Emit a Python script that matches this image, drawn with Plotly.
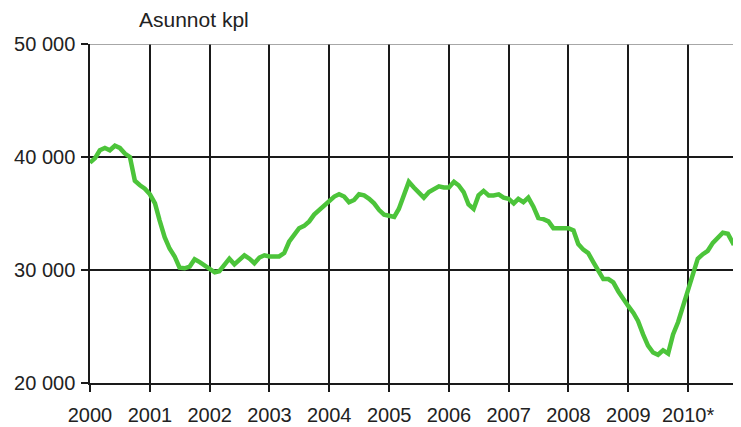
import pandas as pd
import plotly.graph_objects as go

# Monthly number of dwellings (Asunnot kpl), Jan 2000 – Nov 2010
values = [
    39500, 39900, 40600, 40800, 40600, 41000, 40800, 40300, 40000, 37900, 37500, 37200,  # 2000
    36700, 35900, 34400, 32900, 31900, 31200, 30200, 30150, 30300, 30950, 30700, 30400,  # 2001
    30150, 29800, 29900, 30500, 31000, 30500, 30900, 31300, 31000, 30600, 31100, 31300,  # 2002
    31200, 31200, 31200, 31500, 32500, 33100, 33700, 33900, 34300, 34900, 35300, 35700,  # 2003
    36200, 36500, 36700, 36500, 36000, 36200, 36700, 36600, 36300, 35900, 35300, 34900,  # 2004
    34800, 34700, 35400, 36500, 37800, 37300, 36800, 36400, 36900, 37200, 37400, 37300,  # 2005
    37300, 37800, 37500, 36900, 35800, 35400, 36600, 37000, 36600, 36600, 36700, 36400,  # 2006
    36300, 35900, 36300, 36000, 36400, 35600, 34600, 34500, 34300, 33700, 33700, 33700,  # 2007
    33700, 33500, 32300, 31800, 31500, 30700, 30000, 29200, 29200, 28900, 28100, 27400,  # 2008
    26800, 26200, 25500, 24300, 23300, 22700, 22500, 22900, 22600, 24300, 25400, 26800,  # 2009
    28200, 29800, 31000, 31400, 31700, 32400, 32900, 33300, 33200, 32400, 32650,         # 2010
]
start_month = "2000-01-01"
dates = pd.date_range(start_month, periods=len(values), freq="MS")

year_ticks = ["2000", "2001", "2002", "2003", "2004", "2005",
              "2006", "2007", "2008", "2009", "2010*"]
year_tickvals = [f"{y}-01-01" for y in range(2000, 2011)]
y_tickvals = [20000, 30000, 40000, 50000]
y_ticktext = ["20 000", "30 000", "40 000", "50 000"]
y_title = "Asunnot kpl"

FONT = "Liberation Sans, Arial, sans-serif"

fig = go.Figure()
fig.add_trace(go.Scatter(
    x=dates, y=values, mode="lines",
    line=dict(color="#4CC43A", width=4.5),
    hoverinfo="skip", showlegend=False,
))

# page body has an 8px margin, so the figure is 8px smaller than the window
fig.update_layout(
    width=733, height=419,
    margin=dict(l=82, r=0, t=36, b=44),
    paper_bgcolor="white", plot_bgcolor="white",
    font=dict(family=FONT, size=20, color="#222222"),
    xaxis=dict(
        type="date",
        range=["2000-01-01", "2010-11-20"],
        tickvals=year_tickvals, ticktext=year_ticks,
        showgrid=True, gridcolor="#1a1a1a", gridwidth=1.5,
        showline=True, linecolor="#1a1a1a", linewidth=2,
        ticks="outside", ticklen=7, tickcolor="#1a1a1a", tickwidth=1.5,
        ticklabelstandoff=6,
        zeroline=False,
    ),
    yaxis=dict(
        range=[20000, 50000],
        tickvals=y_tickvals, ticktext=y_ticktext,
        showgrid=True, gridcolor="#1a1a1a", gridwidth=1.5,
        showline=True, linecolor="#1a1a1a", linewidth=1.5,
        ticks="outside", ticklen=7, tickcolor="#1a1a1a", tickwidth=1.5,
        ticklabelstandoff=2,
        zeroline=False,
    ),
    annotations=[dict(
        text=y_title, xref="paper", yref="paper",
        x=(137 - 90) / 651, y=1 + (44 - 20) / 339,
        xanchor="left", yanchor="middle", showarrow=False,
        font=dict(family=FONT, size=21, color="#222222"),
    )],
    shapes=[dict(
        type="line", xref="paper", yref="y",
        x0=0, x1=1, y0=50000, y1=50000,
        line=dict(color="#8a8a8a", width=1.5), layer="above",
    )],
)

fig.write_html("out.html")
